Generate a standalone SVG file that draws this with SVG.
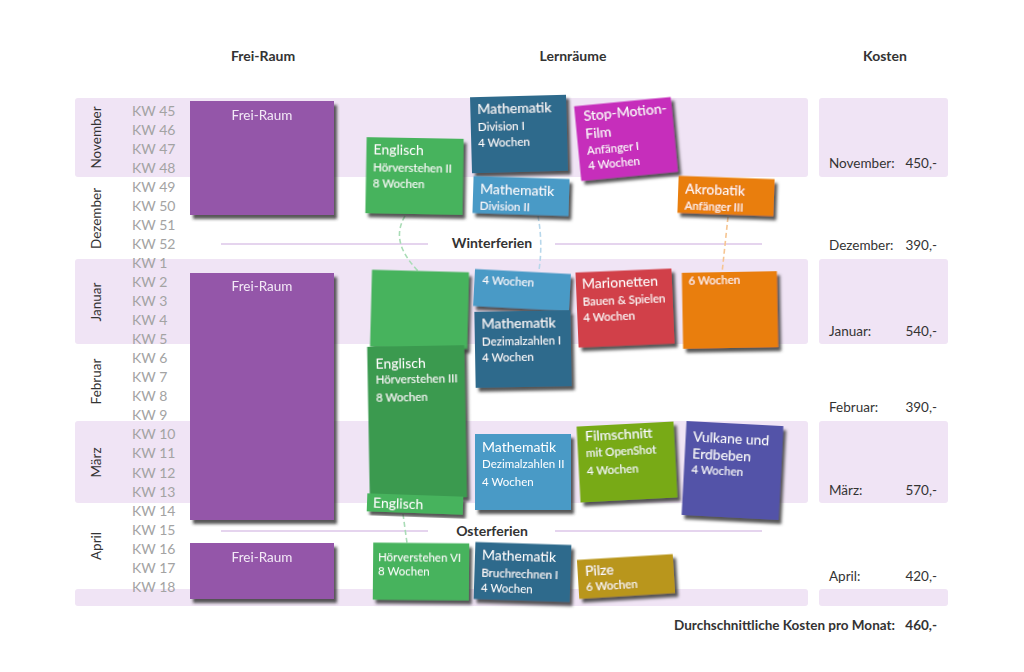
<svg xmlns="http://www.w3.org/2000/svg" width="1024" height="672" viewBox="0 0 1024 672">
<defs>
<filter id="sh" x="-10%" y="-10%" width="130%" height="130%">
<feDropShadow dx="3" dy="4" stdDeviation="1.5" flood-color="#3a3a3a" flood-opacity="0.85"/>
</filter>
</defs>
<style>
text{font-family:Lato,"Noto Sans","DejaVu Sans",sans-serif}
.band{fill:#f0e4f5}
.hd{font-size:14px;font-weight:bold;fill:#333}
.kw{font-size:14px;fill:#a3a3a3}
.mo{font-size:13.5px;fill:#333;text-anchor:middle}
.cost{font-size:13.5px;fill:#333}
.fer{font-size:14px;font-weight:bold;fill:#333;text-anchor:middle}
.fl{stroke:#dcc6e8;stroke-width:1.5}
.t{font-size:14px;fill:#fff}
.s{font-size:11.5px;fill:#fff}
.fr{font-size:13.5px;fill:#f3e9f7;text-anchor:middle}
.card{filter:url(#sh)}
.con{fill:none;stroke-width:1.6;stroke-dasharray:5 3}
</style>
<rect width="1024" height="672" fill="#fff"/>
<g id="bands">
<rect class="band" x="75" y="98" width="733" height="79" rx="3"/>
<rect class="band" x="75" y="259" width="733" height="85" rx="3"/>
<rect class="band" x="75" y="421" width="733" height="82" rx="3"/>
<rect class="band" x="75" y="589" width="733" height="17" rx="3"/>
<rect class="band" x="819" y="98" width="129" height="79" rx="3"/>
<rect class="band" x="819" y="259" width="129" height="85" rx="3"/>
<rect class="band" x="819" y="421" width="129" height="82" rx="3"/>
<rect class="band" x="819" y="589" width="129" height="17" rx="3"/>
</g>
<g id="headers">
<text class="hd" x="263" y="61" text-anchor="middle">Frei-Raum</text>
<text class="hd" x="573" y="61" text-anchor="middle">Lernräume</text>
<text class="hd" x="885" y="61" text-anchor="middle">Kosten</text>
</g>
<g id="months">
<text class="mo" transform="translate(101 137.5) rotate(-90)">November</text>
<text class="mo" transform="translate(101 218.5) rotate(-90)">Dezember</text>
<text class="mo" transform="translate(101 302) rotate(-90)">Januar</text>
<text class="mo" transform="translate(101 381.5) rotate(-90)">Februar</text>
<text class="mo" transform="translate(101 462.5) rotate(-90)">März</text>
<text class="mo" transform="translate(101 546) rotate(-90)">April</text>
</g>
<g id="weeks">
<text class="kw" x="132" y="115.7">KW 45</text>
<text class="kw" x="132" y="134.7">KW 46</text>
<text class="kw" x="132" y="153.8">KW 47</text>
<text class="kw" x="132" y="172.8">KW 48</text>
<text class="kw" x="132" y="191.9">KW 49</text>
<text class="kw" x="132" y="210.9">KW 50</text>
<text class="kw" x="132" y="229.9">KW 51</text>
<text class="kw" x="132" y="249">KW 52</text>
<text class="kw" x="132" y="268">KW 1</text>
<text class="kw" x="132" y="287.1">KW 2</text>
<text class="kw" x="132" y="306.1">KW 3</text>
<text class="kw" x="132" y="325.1">KW 4</text>
<text class="kw" x="132" y="344.2">KW 5</text>
<text class="kw" x="132" y="363.2">KW 6</text>
<text class="kw" x="132" y="382.3">KW 7</text>
<text class="kw" x="132" y="401.3">KW 8</text>
<text class="kw" x="132" y="420.3">KW 9</text>
<text class="kw" x="132" y="439.4">KW 10</text>
<text class="kw" x="132" y="458.4">KW 11</text>
<text class="kw" x="132" y="477.5">KW 12</text>
<text class="kw" x="132" y="496.5">KW 13</text>
<text class="kw" x="132" y="515.5">KW 14</text>
<text class="kw" x="132" y="534.6">KW 15</text>
<text class="kw" x="132" y="553.6">KW 16</text>
<text class="kw" x="132" y="572.7">KW 17</text>
<text class="kw" x="132" y="591.7">KW 18</text>
</g>
<g id="ferien">
<line class="fl" x1="221" y1="244" x2="428" y2="244"/>
<line class="fl" x1="555" y1="244" x2="762" y2="244"/>
<text class="fer" x="492" y="248">Winterferien</text>
<line class="fl" x1="221" y1="531" x2="428" y2="531"/>
<line class="fl" x1="555" y1="531" x2="762" y2="531"/>
<text class="fer" x="492" y="536">Osterferien</text>
</g>
<g id="costs">
<text class="cost" x="829" y="167.5">November:</text><text class="cost" x="937" y="167.5" text-anchor="end">450,-</text>
<text class="cost" x="829" y="249.5">Dezember:</text><text class="cost" x="937" y="249.5" text-anchor="end">390,-</text>
<text class="cost" x="829" y="335.5">Januar:</text><text class="cost" x="937" y="335.5" text-anchor="end">540,-</text>
<text class="cost" x="829" y="411.5">Februar:</text><text class="cost" x="937" y="411.5" text-anchor="end">390,-</text>
<text class="cost" x="829" y="494.5">März:</text><text class="cost" x="937" y="494.5" text-anchor="end">570,-</text>
<text class="cost" x="829" y="580.5">April:</text><text class="cost" x="937" y="580.5" text-anchor="end">420,-</text>
<text class="cost" x="895" y="629.5" text-anchor="end" font-weight="bold">Durchschnittliche Kosten pro Monat:</text>
<text class="cost" x="937" y="629.5" text-anchor="end" font-weight="bold">460,-</text>
</g>
<g id="connectors">
<path class="con" stroke="#a9dcb6" d="M405,216 C395,233 398,250 418,271"/>
<path class="con" stroke="#b7d7eb" d="M538,216 Q543,243 539,270"/>
<path class="con" stroke="#f6c592" d="M728,217 Q725,245 722,273"/>
<path class="con" stroke="#a9dcb6" d="M403,514 L407,543"/>
</g>
<g id="freiraum1" class="card"><rect x="190" y="101" width="144" height="114" fill="#9457a9"/><text class="fr" x="262" y="119.5">Frei-Raum</text></g>
<g id="freiraum2" class="card"><rect x="190" y="273" width="144" height="247" fill="#9457a9"/><text class="fr" x="262" y="290.5">Frei-Raum</text></g>
<g id="freiraum3" class="card"><rect x="190" y="543" width="144" height="56" fill="#9457a9"/><text class="fr" x="262" y="561.5">Frei-Raum</text></g>

<g id="englisch2" class="card" transform="translate(414.5 176) rotate(1)">
<rect x="-48.5" y="-38" width="97" height="76" fill="#46b35d"/>
<text class="t" x="-41.5" y="-21">Englisch</text>
<text class="s" x="-41.5" y="-4">Hörverstehen II</text>
<text class="s" x="-41.5" y="12">8 Wochen</text>
</g>
<g id="mathe-div1" class="card" transform="translate(519 134) rotate(-1.5)">
<rect x="-48" y="-38" width="96" height="76" fill="#2d6a8c"/>
<text class="t" x="-41" y="-21">Mathematik</text>
<text class="s" x="-41" y="-4">Division I</text>
<text class="s" x="-41" y="12">4 Wochen</text>
</g>
<g id="stopmotion" class="card" transform="translate(626 139) rotate(-5.5)">
<rect x="-48.5" y="-37.5" width="97" height="75" fill="#c62dbb"/>
<text class="t" x="-40" y="-22.5">Stop-Motion-</text>
<text class="t" x="-40" y="-4.5">Film</text>
<text class="s" x="-40" y="11.5">Anfänger I</text>
<text class="s" x="-40" y="26.5">4 Wochen</text>
</g>
<g id="mathe-div2" class="card" transform="translate(521 196) rotate(1.8)">
<rect x="-48" y="-18.5" width="96" height="37" fill="#4a9ac6"/>
<text class="t" x="-41" y="-1">Mathematik</text>
<text class="s" x="-41" y="15">Division II</text>
</g>
<g id="akrobatik" class="card" transform="translate(726 196) rotate(2)">
<rect x="-48" y="-18.5" width="96" height="37" fill="#e97e0a"/>
<text class="t" x="-41" y="-1.5">Akrobatik</text>
<text class="s" x="-41" y="14.5">Anfänger III</text>
</g>
<g id="englisch2b" class="card" transform="translate(419.5 309.5) rotate(1.5)">
<rect x="-48.5" y="-38.5" width="97" height="77" fill="#46b35d"/>
</g>
<g id="mathe-div2b" class="card" transform="translate(522 290) rotate(3)">
<rect x="-48" y="-18.5" width="96" height="37" fill="#4a9ac6"/>
<text class="s" x="-40" y="-4.5" font-size="12.5">4 Wochen</text>
</g>
<g id="marionetten" class="card" transform="translate(625 308) rotate(-2.4)">
<rect x="-48" y="-37.5" width="96" height="75" fill="#d1414a"/>
<text class="t" x="-42" y="-21.5">Marionetten</text>
<text class="s" x="-42" y="-4.5">Bauen &amp; Spielen</text>
<text class="s" x="-42" y="11.5">4 Wochen</text>
</g>
<g id="akrobatik-b" class="card" transform="translate(730 310) rotate(-1)">
<rect x="-47.5" y="-38" width="95" height="76" fill="#e97e0a"/>
<text class="s" x="-41" y="-26">6 Wochen</text>
</g>
<g id="englisch3" class="card" transform="translate(417 422) rotate(-1)">
<rect x="-48.5" y="-76" width="97" height="152" fill="#3b9a4f"/>
<text class="t" x="-40.5" y="-54">Englisch</text>
<text class="s" x="-40.5" y="-39">Hörverstehen III</text>
<text class="s" x="-40.5" y="-21">8 Wochen</text>
</g>
<g id="mathe-dez1" class="card" transform="translate(523 349) rotate(-1)">
<rect x="-48" y="-38" width="96" height="76" fill="#2d6a8c"/>
<text class="t" x="-41" y="-21">Mathematik</text>
<text class="s" x="-41" y="-4">Dezimalzahlen I</text>
<text class="s" x="-41" y="12">4 Wochen</text>
</g>
<g id="mathe-dez2" class="card" transform="translate(523 472)">
<rect x="-48" y="-38" width="96" height="76" fill="#4a9ac6"/>
<text class="t" x="-41" y="-20">Mathematik</text>
<text class="s" x="-41" y="-4">Dezimalzahlen II</text>
<text class="s" x="-41" y="14">4 Wochen</text>
</g>
<g id="filmschnitt" class="card" transform="translate(627 462) rotate(-3)">
<rect x="-48.5" y="-38" width="97" height="76" fill="#78aa15"/>
<text class="t" x="-40.5" y="-23">Filmschnitt</text>
<text class="s" x="-40.5" y="-7">mit OpenShot</text>
<text class="s" x="-40.5" y="11">4 Wochen</text>
</g>
<g id="vulkane" class="card" transform="translate(732.5 470.5) rotate(3)">
<rect x="-48.5" y="-47" width="97" height="94" fill="#5353a8"/>
<text class="t" x="-41" y="-27">Vulkane und</text>
<text class="t" x="-41" y="-10">Erdbeben</text>
<text class="s" x="-41" y="5">4 Wochen</text>
</g>
<g id="englisch3b" class="card" transform="translate(415 504) rotate(2)">
<rect x="-48" y="-9" width="96" height="18" fill="#46b35d"/>
<text class="t" x="-42" y="5">Englisch</text>
</g>
<g id="englisch6" class="card" transform="translate(421 571.5) rotate(0.5)">
<rect x="-48" y="-28.5" width="96" height="57" fill="#46b35d"/>
<text class="s" x="-43" y="-10" font-size="12">Hörverstehen VI</text>
<text class="s" x="-43" y="4">8 Wochen</text>
</g>
<g id="mathe-bruch1" class="card" transform="translate(522.5 572) rotate(1.8)">
<rect x="-48" y="-28.5" width="96" height="57" fill="#2d6a8c"/>
<text class="t" x="-41" y="-11">Mathematik</text>
<text class="s" x="-41" y="6">Bruchrechnen I</text>
<text class="s" x="-41" y="21">4 Wochen</text>
</g>
<g id="pilze" class="card" transform="translate(626 576.5) rotate(-3.5)">
<rect x="-48" y="-19.5" width="96" height="39" fill="#b9961b"/>
<text class="t" x="-40.5" y="-3">Pilze</text>
<text class="s" x="-40.5" y="12">6 Wochen</text>
</g>
</svg>
